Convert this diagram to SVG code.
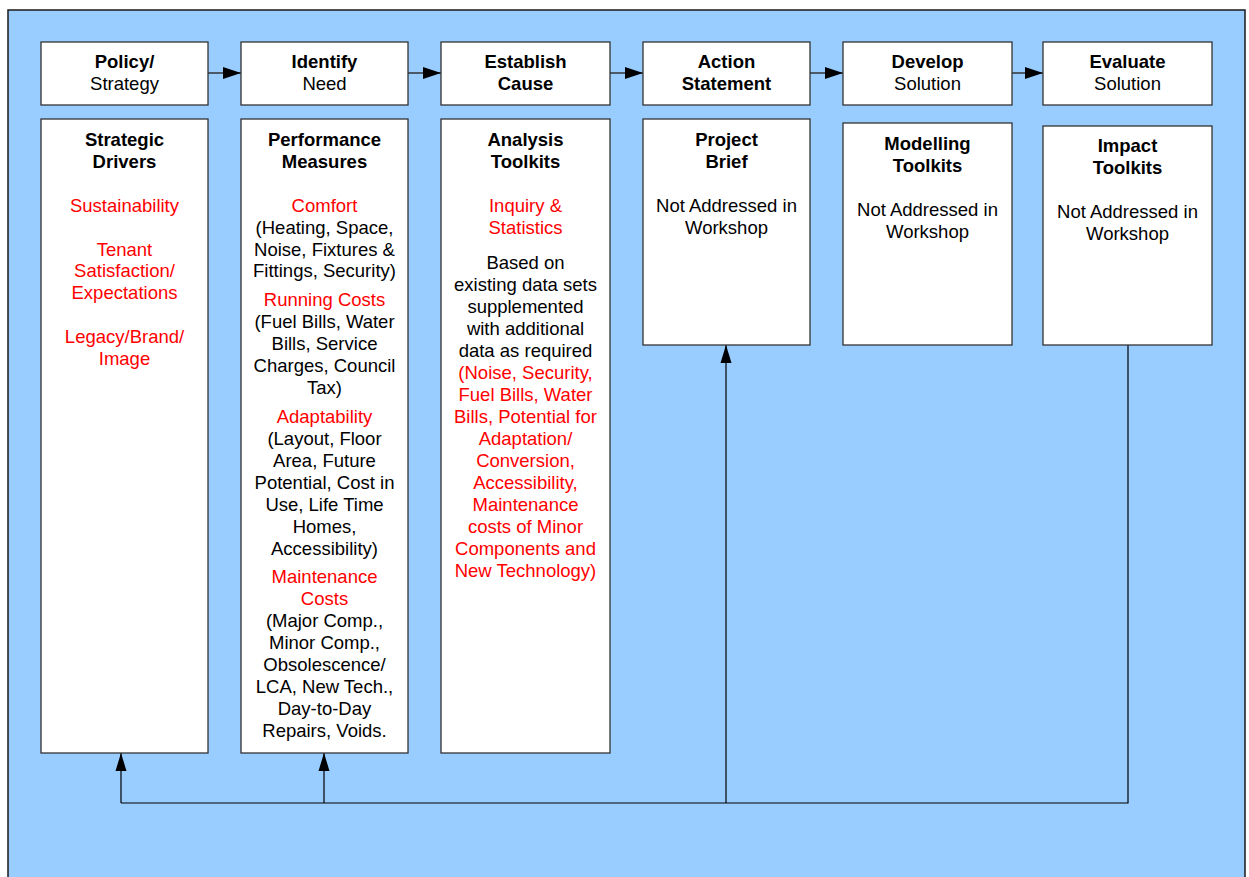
<svg xmlns="http://www.w3.org/2000/svg" width="1249" height="877" viewBox="0 0 1249 877">
  <style>
    .bg { fill: #99CCFF; stroke: #1a1a1a; stroke-width: 1.5; }
    .box { fill: #FFFFFF; stroke: #333333; stroke-width: 1.3; }
    .shadow { fill: none; stroke: #555555; stroke-width: 1.2; }
    text { font-family: "Liberation Sans", Arial, sans-serif; font-size: 18.5px; text-anchor: middle; fill: #000000; }
    .b { font-weight: bold; }
    .r { fill: #FF0000; }
    .flow { stroke: #333333; stroke-width: 1.5; fill: none; }
    .feed { stroke: #000000; stroke-width: 1.2; fill: none; }
  </style>
  <defs>
    <marker id="arrowH" markerUnits="userSpaceOnUse" markerWidth="18" markerHeight="12" refX="18" refY="6" orient="auto">
      <path d="M0,0 L18,6 L0,12 Z" fill="#000000"/>
    </marker>
    <marker id="arrowV" markerUnits="userSpaceOnUse" markerWidth="18" markerHeight="12" refX="18" refY="6" orient="auto">
      <path d="M0,0.5 L18,6 L0,11.5 Z" fill="#000000"/>
    </marker>
  </defs>

  <!-- panel -->
  <rect class="bg" x="8" y="10" width="1237" height="880"/>

  <!-- connectors -->
  <g id="connectors">
    <line class="flow" x1="208" y1="73" x2="241" y2="73" marker-end="url(#arrowH)"/>
    <line class="flow" x1="408" y1="73" x2="441" y2="73" marker-end="url(#arrowH)"/>
    <line class="flow" x1="610" y1="73" x2="643" y2="73" marker-end="url(#arrowH)"/>
    <line class="flow" x1="810" y1="73" x2="843" y2="73" marker-end="url(#arrowH)"/>
    <line class="flow" x1="1012" y1="73" x2="1043" y2="73" marker-end="url(#arrowH)"/>
    <polyline class="feed" points="1128,345 1128,803 121,803"/>
    <line class="feed" x1="121" y1="803" x2="121" y2="753" marker-end="url(#arrowV)"/>
    <line class="feed" x1="324" y1="803" x2="324" y2="753" marker-end="url(#arrowV)"/>
    <line class="feed" x1="726" y1="803" x2="726" y2="345" marker-end="url(#arrowV)"/>
  </g>

  <!-- stage headers -->
  <g id="policy-strategy">
    <rect class="box" x="41" y="42" width="167" height="63"/>
    <text x="124.5" y="67.5" class="b">Policy/</text>
    <text x="124.5" y="89.5">Strategy</text>
  </g>
  <g id="identify-need">
    <rect class="box" x="241" y="42" width="167" height="63"/>
    <text x="324.5" y="67.5" class="b">Identify</text>
    <text x="324.5" y="89.5">Need</text>
  </g>
  <g id="establish-cause">
    <rect class="box" x="441" y="42" width="169" height="63"/>
    <text x="525.5" y="67.5" class="b">Establish</text>
    <text x="525.5" y="89.5" class="b">Cause</text>
  </g>
  <g id="action-statement">
    <rect class="box" x="643" y="42" width="167" height="63"/>
    <text x="726.5" y="67.5" class="b">Action</text>
    <text x="726.5" y="89.5" class="b">Statement</text>
  </g>
  <g id="develop-solution">
    <rect class="box" x="843" y="42" width="169" height="63"/>
    <text x="927.5" y="67.5" class="b">Develop</text>
    <text x="927.5" y="89.5">Solution</text>
  </g>
  <g id="evaluate-solution">
    <rect class="box" x="1043" y="42" width="169" height="63"/>
    <text x="1127.5" y="67.5" class="b">Evaluate</text>
    <text x="1127.5" y="89.5">Solution</text>
  </g>

  <!-- detail columns -->
  <g id="strategic-drivers">
    <rect class="box" x="41" y="119" width="167" height="634"/>
    <text x="124.5" y="145.5" class="b">Strategic</text>
    <text x="124.5" y="167.5" class="b">Drivers</text>
    <text x="124.5" y="211.5" class="r">Sustainability</text>
    <text x="124.5" y="255.5" class="r">Tenant</text>
    <text x="124.5" y="277" class="r">Satisfaction/</text>
    <text x="124.5" y="298.5" class="r">Expectations</text>
    <text x="124.5" y="342.5" class="r">Legacy/Brand/</text>
    <text x="124.5" y="364.5" class="r">Image</text>
  </g>
  <g id="performance-measures">
    <rect class="box" x="241" y="119" width="167" height="634"/>
    <text x="324.5" y="145.5" class="b">Performance</text>
    <text x="324.5" y="167.5" class="b">Measures</text>
    <text x="324.5" y="211.5" class="r">Comfort</text>
    <text x="324.5" y="233.5">(Heating, Space,</text>
    <text x="324.5" y="255.5">Noise, Fixtures &amp;</text>
    <text x="324.5" y="277">Fittings, Security)</text>
    <text x="324.5" y="305.5" class="r">Running Costs</text>
    <text x="324.5" y="327.5">(Fuel Bills, Water</text>
    <text x="324.5" y="349.5">Bills, Service</text>
    <text x="324.5" y="371.5">Charges, Council</text>
    <text x="324.5" y="393.5">Tax)</text>
    <text x="324.5" y="422.5" class="r">Adaptability</text>
    <text x="324.5" y="444.5">(Layout, Floor</text>
    <text x="324.5" y="466.5">Area, Future</text>
    <text x="324.5" y="488.5">Potential, Cost in</text>
    <text x="324.5" y="510.5">Use, Life Time</text>
    <text x="324.5" y="532.5">Homes,</text>
    <text x="324.5" y="554.5">Accessibility)</text>
    <text x="324.5" y="582.5" class="r">Maintenance</text>
    <text x="324.5" y="604.5" class="r">Costs</text>
    <text x="324.5" y="626.5">(Major Comp.,</text>
    <text x="324.5" y="648.5">Minor Comp.,</text>
    <text x="324.5" y="670.5">Obsolescence/</text>
    <text x="324.5" y="692.5">LCA, New Tech.,</text>
    <text x="324.5" y="714.5">Day-to-Day</text>
    <text x="324.5" y="736.5">Repairs, Voids.</text>
  </g>
  <g id="analysis-toolkits">
    <rect class="box" x="441" y="119" width="169" height="634"/>
    <text x="525.5" y="145.5" class="b">Analysis</text>
    <text x="525.5" y="167.5" class="b">Toolkits</text>
    <text x="525.5" y="211.5" class="r">Inquiry &amp;</text>
    <text x="525.5" y="233.5" class="r">Statistics</text>
    <text x="525.5" y="268.5">Based on</text>
    <text x="525.5" y="290.5">existing data sets</text>
    <text x="525.5" y="312.5">supplemented</text>
    <text x="525.5" y="334.5">with additional</text>
    <text x="525.5" y="356.5">data as required</text>
    <text x="525.5" y="378.5" class="r">(Noise, Security,</text>
    <text x="525.5" y="400.5" class="r">Fuel Bills, Water</text>
    <text x="525.5" y="422.5" class="r">Bills, Potential for</text>
    <text x="525.5" y="444.5" class="r">Adaptation/</text>
    <text x="525.5" y="466.5" class="r">Conversion,</text>
    <text x="525.5" y="488.5" class="r">Accessibility,</text>
    <text x="525.5" y="510.5" class="r">Maintenance</text>
    <text x="525.5" y="532.5" class="r">costs of Minor</text>
    <text x="525.5" y="554.5" class="r">Components and</text>
    <text x="525.5" y="576.5" class="r">New Technology)</text>
  </g>
  <g id="project-brief">
    <rect class="box" x="643" y="119" width="167" height="226"/>
    <text x="726.5" y="145.5" class="b">Project</text>
    <text x="726.5" y="167.5" class="b">Brief</text>
    <text x="726.5" y="211.5">Not Addressed in</text>
    <text x="726.5" y="233.5">Workshop</text>
  </g>
  <g id="modelling-toolkits">
    <rect class="box" x="843" y="123" width="169" height="222"/>
    <text x="927.5" y="149.5" class="b">Modelling</text>
    <text x="927.5" y="171.5" class="b">Toolkits</text>
    <text x="927.5" y="215.5">Not Addressed in</text>
    <text x="927.5" y="237.5">Workshop</text>
  </g>
  <g id="impact-toolkits">
    <rect class="box" x="1043" y="126" width="169" height="219"/>
    <text x="1127.5" y="151.5" class="b">Impact</text>
    <text x="1127.5" y="173.5" class="b">Toolkits</text>
    <text x="1127.5" y="217.5">Not Addressed in</text>
    <text x="1127.5" y="239.5">Workshop</text>
  </g>
</svg>
